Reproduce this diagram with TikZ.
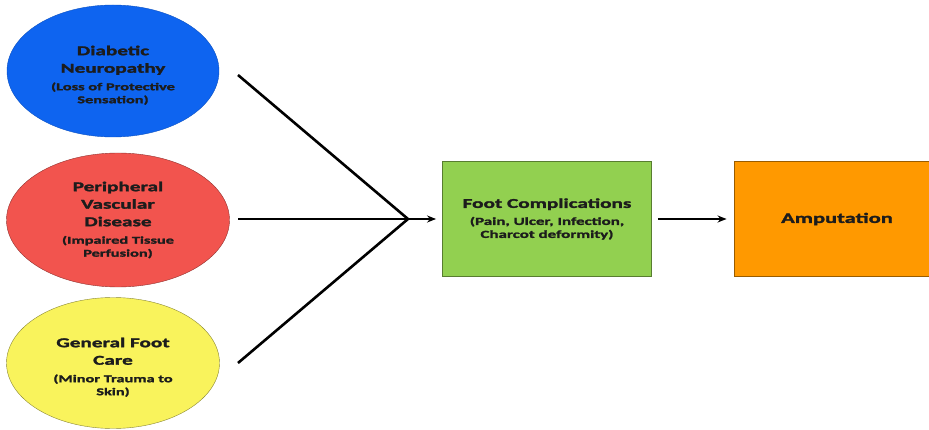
\documentclass[tikz,border=0pt]{standalone}
\usepackage{fontspec}
\newfontfamily\lblfont[FakeStretch=1.57,FakeBold=2]{Carlito}
\usetikzlibrary{shapes.geometric, arrows.meta, positioning}

\definecolor{neuroblue}{RGB}{14,100,240}
\definecolor{vascred}{RGB}{242,84,78}
\definecolor{careyellow}{RGB}{249,243,92}
\definecolor{compgreen}{RGB}{146,208,80}
\definecolor{ampuorange}{RGB}{255,153,0}
\definecolor{ink}{RGB}{28,28,28}

\newcommand{\notesize}{\fontsize{10.4}{13}\selectfont}
\newcommand{\boxnote}{\fontsize{10.8}{13}\selectfont}

\tikzset{
  cause/.style={ellipse, inner sep=0pt, align=center, text=ink,
    font=\lblfont\bfseries\fontsize{13.5}{17.5}\selectfont},
  stage/.style={rectangle, inner sep=0pt, align=center, text=ink, line width=0.9pt,
    minimum height=115, font=\lblfont\bfseries\fontsize{13.5}{17}\selectfont},
  merge/.style={line width=2.6pt, black},
  feed/.style={line width=1.8pt, black, -{Stealth[length=9pt,width=7pt]}}
}

\begin{document}
\begin{tikzpicture}[x=1pt,y=-1pt]
    \useasboundingbox (0,0) rectangle (929,430);

    % Causes
    \node[cause, fill=neuroblue, draw=neuroblue!80!black, minimum width=212, minimum height=132]
        (neuro) at (113,71) {\rule{0pt}{18pt}Diabetic\\Neuropathy\\{\notesize (Loss of Protective}\\[-4.5pt]{\notesize Sensation)}};
    \node[cause, fill=vascred, draw=vascred!60!black, minimum width=223, minimum height=134]
        (vasc) at (118,220) {Peripheral\\Vascular\\Disease\\{\notesize (Impaired Tissue}\\[-4.5pt]{\notesize Perfusion)}};
    \node[cause, fill=careyellow, draw=careyellow!55!black, minimum width=213, minimum height=131]
        (care) at (113,363) {\rule{0pt}{18pt}General Foot\\Care\\{\notesize (Minor Trauma to}\\[-4.5pt]{\notesize Skin)}};

    % Outcomes
    \node[stage, fill=compgreen, draw=compgreen!60!black, minimum width=209]
        (comp) at (547,219) {Foot Complications\\{\boxnote (Pain, Ulcer, Infection,}\\[-4pt]{\boxnote Charcot deformity)}};
    \node[stage, fill=ampuorange, draw=ampuorange!60!black, minimum width=206]
        (ampu) at (837,219) {\fontsize{14.3}{15}\selectfont Amputation};

    % Converging lines
    \coordinate (neuroend) at (238,75);
    \coordinate (vascend) at (238,219);
    \coordinate (careend) at (238,363);
    \coordinate (meet) at (408,219);
    \draw[merge] (neuroend) -- (meet);
    \draw[merge] (vascend) -- (meet);
    \draw[merge] (careend) -- (meet);

    % Arrows
    \draw[feed, shorten >=6pt] (meet) -- (comp.west);
    \draw[feed, shorten <=6pt, shorten >=7pt] (comp.east) -- (ampu.west);
\end{tikzpicture}
\end{document}
